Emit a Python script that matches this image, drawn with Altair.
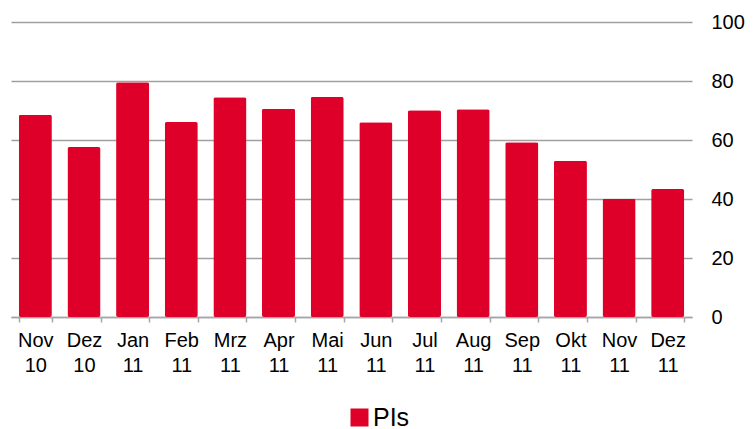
import altair as alt
import pandas as pd

months = ["Nov 10", "Dez 10", "Jan 11", "Feb 11", "Mrz 11", "Apr 11", "Mai 11",
          "Jun 11", "Jul 11", "Aug 11", "Sep 11", "Okt 11", "Nov 11", "Dez 11"]
values = [68.6, 57.6, 79.6, 66.1, 74.5, 70.6, 74.6, 66.0, 70.1, 70.4, 59.2, 53.0, 40.1, 43.4]
series = ["PIs"] * len(months)
y_ticks = [0, 20, 40, 60, 80, 100]

df = pd.DataFrame({"month": months, "value": values, "series": series})

FONT = "Liberation Sans"

chart = alt.Chart(df).mark_bar(cornerRadius=2).encode(
    x=alt.X("month:N", sort=months, title=None,
            scale=alt.Scale(paddingInner=0.32, paddingOuter=0.16),
            axis=alt.Axis(labelAngle=0, labelExpr="split(datum.label, ' ')",
                          labelFontSize=20, labelLineHeight=25, labelPadding=8,
                          labelColor="#000000", labelFont=FONT,
                          tickBand="extent", tickSize=5, tickColor="#A6A6A6",
                          tickWidth=1.5, domainColor="#A6A6A6", domainWidth=1.5,
                          grid=False)),
    y=alt.Y("value:Q", title=None,
            scale=alt.Scale(domain=[0, 100], nice=False),
            axis=alt.Axis(orient="right", values=y_ticks, domain=False, ticks=False,
                          labelPadding=19, labelFontSize=20, labelColor="#000000",
                          labelFont=FONT, grid=True, gridColor="#A0A0A0",
                          gridWidth=1.5)),
    color=alt.Color("series:N", title=None,
                    scale=alt.Scale(domain=["PIs"], range=["#DF0029"]),
                    legend=alt.Legend(orient="none", legendX=336, legendY=383,
                                      symbolType="square", symbolSize=324,
                                      symbolStrokeWidth=0, labelFontSize=25,
                                      labelFont=FONT, labelColor="#000000",
                                      labelOffset=1, padding=0)),
).properties(
    width=681, height=295,
    autosize=alt.AutoSizeParams(type="none"),
    padding={"left": 3, "top": 14, "right": 54, "bottom": 112},
).configure(background="white").configure_view(stroke=None)

chart.save("out.html", embed_options={"renderer": "svg", "actions": False})
